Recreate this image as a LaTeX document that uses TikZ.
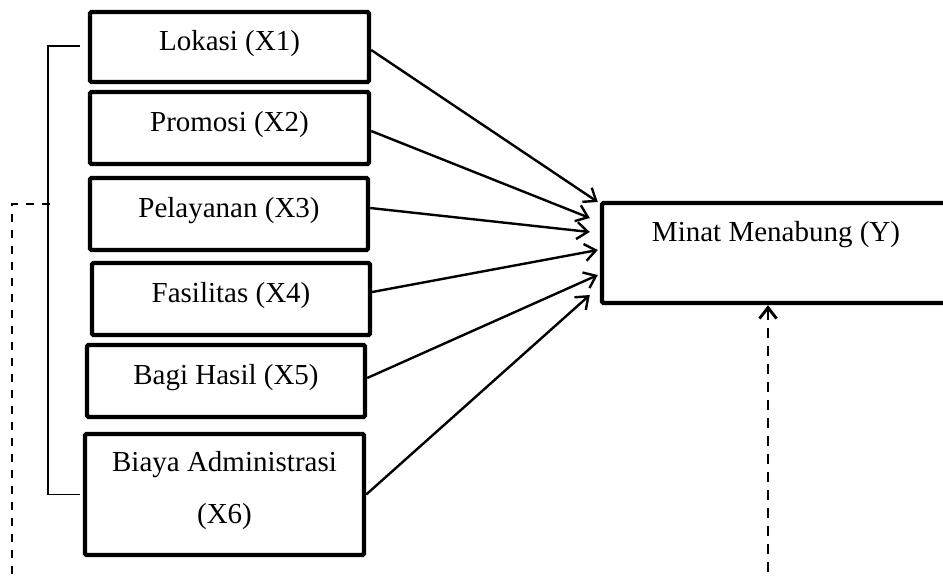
\documentclass[tikz,border=0pt]{standalone}
\usepackage{fontspec}
\setmainfont{Liberation Serif}
\usetikzlibrary{arrows.meta,calc}
\begin{document}
\begin{tikzpicture}[x=1pt,y=-1pt,
  box/.style={draw,line width=4.4pt,rounded corners=1.5pt,inner sep=0pt},
  lbl/.style={font=\fontsize{29}{35}\selectfont,inner sep=0pt},
  arr/.style={line width=2.4pt,-{Straight Barb[length=11pt,width=17pt]}},
  brk/.style={line width=1.8pt},
  dline/.style={line width=2.3pt,dash pattern=on 8pt off 8pt},
  darr/.style={line width=2.9pt,dash pattern=on 10pt off 8pt,-{Straight Barb[length=11pt,width=17pt]}}]
\clip (0,0) rectangle (943,579);
% boxes
\node[box,minimum width=279pt,minimum height=70pt] (X1) at (229.5,47) {};
\node[box,minimum width=279pt,minimum height=72pt] (X2) at (229.5,128) {};
\node[box,minimum width=278pt,minimum height=72pt] (X3) at (229,214) {};
\node[box,minimum width=278pt,minimum height=72pt] (X4) at (231,299) {};
\node[box,minimum width=278pt,minimum height=72pt] (X5) at (226,381) {};
\node[box,minimum width=279pt,minimum height=121pt] (X6) at (224.5,494.5) {};
\node[box,minimum width=360pt,minimum height=100pt] (Y) at (782,253) {};
% labels
\node[lbl] (t1) at ([yshift=3pt]X1.center) {Lokasi (X1)};
\node[lbl] (t2) at ([yshift=3pt]X2.center) {Promosi (X2)};
\node[lbl] (t3) at ([yshift=3pt]X3.center) {Pelayanan (X3)};
\node[lbl] (t4) at ([yshift=3pt]X4.center) {Fasilitas (X4)};
\node[lbl] (t5) at ([yshift=3pt]X5.center) {Bagi Hasil (X5)};
\node[lbl,align=center,font=\fontsize{29}{52}\selectfont] (t6) at ([yshift=4pt]X6.center) {Biaya Administrasi\\(X6)};
\node[lbl] (ty) at (776,235) {Minat Menabung (Y)};
% arrows
\draw[arr] ([yshift=-3pt]X1.east) -- ([xshift=-2pt,yshift=51pt]Y.west);
\draw[arr] ([yshift=-3pt]X2.east) -- ([xshift=-10pt,yshift=35pt]Y.west);
\draw[arr] ([yshift=6pt]X3.east) -- ([xshift=-10pt,yshift=21pt]Y.west);
\draw[arr] ([yshift=7pt]X4.east) -- ([xshift=-2pt,yshift=3pt]Y.west);
\draw[arr] ([yshift=3pt]X5.east) -- ([xshift=-2pt,yshift=-22pt]Y.west);
\draw[arr] (X6.east) -- ([xshift=-10pt,yshift=-42pt]Y.west);
% bracket
\draw[brk] ([xshift=-8pt,yshift=1pt]X1.west) -- ++(-32,0) |- ([xshift=-3pt]X6.west);
% dashed lines
\coordinate (bm) at (50,204);
\coordinate (bl) at (12,590);
\draw[dline] (bm) -- (12,204) -- (bl);
\coordinate (br) at (768,590);
\draw[darr] (br) -- ([xshift=-14pt]Y.south);
\end{tikzpicture}
\end{document}
